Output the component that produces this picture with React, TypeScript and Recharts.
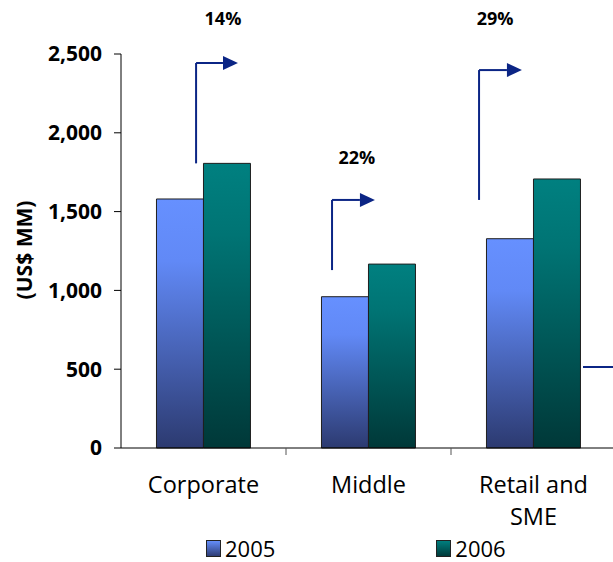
import { Bar, ComposedChart, ReferenceDot, ReferenceLine, XAxis, YAxis } from "recharts";

const categories = ["Corporate", "Middle", "Retail and SME"];
const values2005 = [1580, 960, 1328];
const values2006 = [1806, 1167, 1707];
const yTicks = [0, 500, 1000, 1500, 2000, 2500];

// growth arrows, x in category units (0..3), y in US$ MM
const growthLabels = ["14%", "22%", "29%"];
const labelX = [0.618, 1.43, 2.267];
const labelY = [2728, 1846, 2728];
const arrowX = [0.455, 1.279, 2.17];
const arrowFrom = [1806, 1129, 1574];
const arrowTo = [2443, 1574, 2398];
const arrowHeadX = [0.618, 1.448, 2.339];

const FONT = "'Open Sans', sans-serif";
const ARROW = "#0b2585";
const CHART_W = 630;
const CHART_H = 562;
const Y_AXIS_W = 121;
const MARGIN = { top: 54, right: 14, bottom: 34, left: 0 };
const X_AXIS_H = 80;
const PLOT_BOTTOM = CHART_H - MARGIN.bottom - X_AXIS_H;
const HALF_BAND = (CHART_W - MARGIN.right - Y_AXIS_W) / categories.length / 2;

const data = categories.map((name, i) => ({
  name,
  pos: i + 0.5,
  y2005: values2005[i],
  y2006: values2006[i],
}));

function CategoryTick({ x, payload }: any) {
  const label: string = payload.value;
  const cut = label.lastIndexOf(" ");
  const lines = label.length > 10 ? [label.slice(0, cut), label.slice(cut + 1)] : [label];
  return (
    <g>
      <line
        x1={x + HALF_BAND}
        x2={x + HALF_BAND}
        y1={PLOT_BOTTOM}
        y2={PLOT_BOTTOM + 7}
        stroke="#555"
      />
      <text x={x} y={PLOT_BOTTOM + 45} textAnchor="middle" fontFamily={FONT} fontSize={23.5} fill="#000">
        {lines.map((l, i) => (
          <tspan key={i} x={x} dy={i === 0 ? 0 : 32}>
            {l}
          </tspan>
        ))}
      </text>
    </g>
  );
}

function ArrowHead({ cx, cy }: any) {
  return <polygon points={`${cx},${cy - 7} ${cx + 15},${cy} ${cx},${cy + 7}`} fill={ARROW} />;
}

function GrowthLabel(text: string) {
  return ({ cx, cy }: any) => (
    <text x={cx} y={cy} textAnchor="middle" dominantBaseline="central" fontFamily={FONT} fontSize={18} fontWeight={700} fill="#000">
      {text}
    </text>
  );
}

function LegendItem({ id, label }: { id: string; label: string }) {
  return (
    <div style={{ display: "flex", alignItems: "center" }}>
      <svg width={15} height={17} style={{ marginRight: 4 }}>
        <rect x={0.5} y={0.5} width={14} height={16} fill={`url(#${id}-legend)`} stroke="#222" />
        <defs>
          <linearGradient id={`${id}-legend`} x1="0" y1="0" x2="0" y2="1">
            <stop offset="0%" stopColor={id === "g2005" ? "#6690ff" : "#008080"} />
            <stop offset="100%" stopColor={id === "g2005" ? "#2c3a70" : "#003838"} />
          </linearGradient>
        </defs>
      </svg>
      <span>{label}</span>
    </div>
  );
}

export default function App() {
  return (
    <div
      style={{
        position: "fixed",
        left: 0,
        top: 0,
        width: 613,
        height: 562,
        overflow: "hidden",
        background: "#fff",
      }}
    >
      <ComposedChart width={CHART_W} height={CHART_H} data={data} margin={MARGIN} barCategoryGap="21.5%" barGap={0}>
        <defs>
          <linearGradient id="g2005" x1="0" y1="0" x2="0" y2="1">
            <stop offset="0%" stopColor="#6690ff" />
            <stop offset="25%" stopColor="#6189f6" />
            <stop offset="100%" stopColor="#2c3a70" />
          </linearGradient>
          <linearGradient id="g2006" x1="0" y1="0" x2="0" y2="1">
            <stop offset="0%" stopColor="#008080" />
            <stop offset="25%" stopColor="#007474" />
            <stop offset="100%" stopColor="#003838" />
          </linearGradient>
        </defs>
        <XAxis
          dataKey="name"
          height={X_AXIS_H}
          axisLine={{ stroke: "#000" }}
          tickLine={false}
          tick={<CategoryTick />}
          interval={0}
        />
        <XAxis xAxisId="num" dataKey="pos" type="number" domain={[0, 3]} hide allowDataOverflow />
        <YAxis
          domain={[0, 2500]}
          ticks={yTicks}
          width={Y_AXIS_W}
          tickSize={7}
          tickMargin={12}
          interval={0}
          axisLine={{ stroke: "#000" }}
          tickLine={{ stroke: "#000" }}
          tick={{ fill: "#000", fontSize: 21, fontWeight: 700, fontFamily: FONT }}
          tickFormatter={(v: number) => v.toLocaleString("en-US")}
          label={{
            content: () => (
              <text
                transform="translate(24,250) rotate(-90)"
                textAnchor="middle"
                dominantBaseline="central"
                fontFamily={FONT}
                fontSize={21}
                fontWeight={700}
                fill="#000"
              >
                (US$ MM)
              </text>
            ),
          }}
        />
        <Bar dataKey="y2005" fill="url(#g2005)" stroke="#1f1f1f" strokeWidth={1} isAnimationActive={false} />
        <Bar dataKey="y2006" fill="url(#g2006)" stroke="#1f1f1f" strokeWidth={1} isAnimationActive={false} />

        {growthLabels.map((t, i) => (
          <ReferenceLine
            key={`v${i}`}
            xAxisId="num"
            segment={[
              { x: arrowX[i], y: arrowFrom[i] },
              { x: arrowX[i], y: arrowTo[i] },
            ]}
            stroke={ARROW}
            strokeWidth={2}
            ifOverflow="visible"
          />
        ))}
        {growthLabels.map((t, i) => (
          <ReferenceLine
            key={`h${i}`}
            xAxisId="num"
            segment={[
              { x: arrowX[i], y: arrowTo[i] },
              { x: arrowHeadX[i], y: arrowTo[i] },
            ]}
            stroke={ARROW}
            strokeWidth={2}
            ifOverflow="visible"
          />
        ))}
        {growthLabels.map((t, i) => (
          <ReferenceDot
            key={`a${i}`}
            xAxisId="num"
            x={arrowHeadX[i]}
            y={arrowTo[i]}
            shape={<ArrowHead />}
            ifOverflow="visible"
          />
        ))}
        {growthLabels.map((t, i) => (
          <ReferenceDot
            key={`l${i}`}
            xAxisId="num"
            x={labelX[i]}
            y={labelY[i]}
            shape={GrowthLabel(t)}
            ifOverflow="visible"
          />
        ))}
        <ReferenceLine
          xAxisId="num"
          segment={[
            { x: 2.8, y: 514 },
            { x: 3, y: 514 },
          ]}
          stroke={ARROW}
          strokeWidth={2}
          ifOverflow="visible"
        />
      </ComposedChart>
      <div
        style={{
          position: "absolute",
          left: 206,
          top: 537,
          display: "flex",
          gap: 161,
          fontFamily: FONT,
          fontSize: 22,
          lineHeight: "22px",
          color: "#000",
        }}
      >
        <LegendItem id="g2005" label="2005" />
        <LegendItem id="g2006" label="2006" />
      </div>
    </div>
  );
}
